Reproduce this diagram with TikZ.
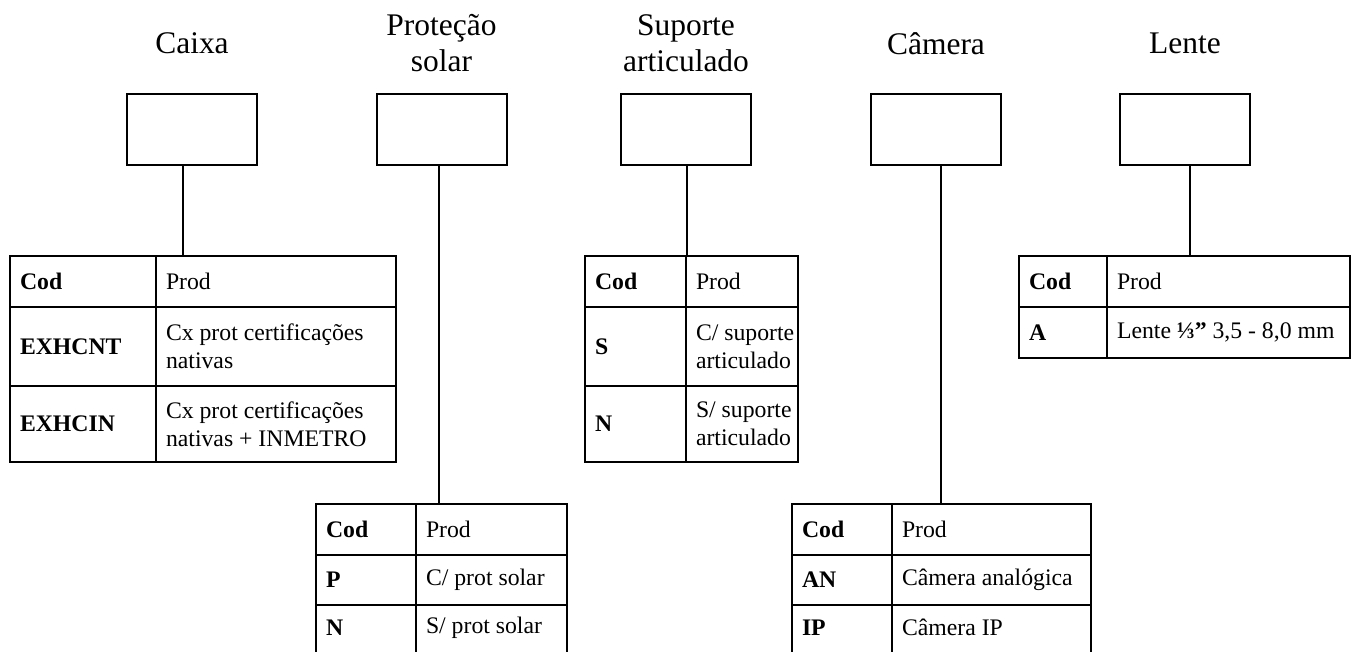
\documentclass[tikz,border=0pt]{standalone}
\usepackage{fontspec}
\setmainfont{Liberation Serif}
\newcommand\tcell[5]{\node[cellbox, minimum width={(#4-#2)*0.75pt}, minimum height={(#5-#3)*0.75pt}] (#1) at ({(#2+#4)/2},{(#3+#5)/2}) {};}
\begin{document}
\begin{tikzpicture}[x=0.75pt,y=-0.75pt,
  stem/.style={line width=1.5pt},
  boxn/.style={draw, line width=1.5pt, rectangle, inner sep=0pt, minimum width=97.5pt, minimum height=53.25pt},
  ttl/.style={font=\fontsize{23.6}{27}\selectfont, align=center, inner sep=0pt},
  cellbox/.style={draw, line width=1.4pt, rectangle, inner sep=0pt},
  ctext/.style={font=\fontsize{17.8}{21}\selectfont, align=left, inner sep=0pt, anchor=west},
  ccode/.style={ctext, font=\fontsize{17.8}{21}\selectfont\bfseries}]
\useasboundingbox (0,0) rectangle (1352,652);
\clip (0,0) rectangle (1352,652);
% titles
\node[ttl] (h1) at (192,43.5) {Caixa};
\node[ttl] (h2) at (441.5,43.5) {Proteção\\solar};
\node[ttl] (h3) at (686,43.5) {Suporte\\articulado};
\node[ttl] (h4) at (936,43.5) {Câmera};
\node[ttl] (h5) at (1185,43.5) {Lente};
% boxes
\node[boxn] (b1) at (192,129.5) {};
\node[boxn] (b2) at (441.5,129.5) {};
\node[boxn] (b3) at (686,129.5) {};
\node[boxn] (b4) at (936,129.5) {};
\node[boxn] (b5) at (1185,129.5) {};
% table 1 (Caixa)
\tcell{t1a}{10}{256}{156}{307}
\tcell{t1b}{156}{256}{396}{307}
\tcell{t1c}{10}{307}{156}{386}
\tcell{t1d}{156}{307}{396}{386}
\tcell{t1e}{10}{386}{156}{462}
\tcell{t1f}{156}{386}{396}{462}
\node[ccode] (x1a) at ([xshift=8pt]t1a.west) {Cod};
\node[ctext] (x1b) at ([xshift=8pt]t1b.west) {Prod};
\node[ccode] (x1c) at ([xshift=8pt]t1c.west) {EXHCNT};
\node[ctext] (x1d) at ([xshift=8pt]t1d.west) {Cx prot certificações\\nativas};
\node[ccode] (x1e) at ([xshift=8pt]t1e.west) {EXHCIN};
\node[ctext] (x1f) at ([xshift=8pt]t1f.west) {Cx prot certificações\\nativas + INMETRO};
% table 2 (Proteção solar)
\tcell{t2a}{316}{504}{416}{555}
\tcell{t2b}{416}{504}{567}{555}
\tcell{t2c}{316}{555}{416}{605}
\tcell{t2d}{416}{555}{567}{605}
\tcell{t2e}{316}{605}{416}{700}
\tcell{t2f}{416}{605}{567}{700}
\node[ccode] (x2a) at ([xshift=8pt]t2a.west) {Cod};
\node[ctext] (x2b) at ([xshift=8pt]t2b.west) {Prod};
\node[ccode] (x2c) at ([xshift=8pt]t2c.west) {P};
\node[ctext] (x2d) at ([xshift=8pt]t2d.west) {C/ prot solar};
\node[ccode] (x2e) at ([xshift=8pt,yshift=-17.6pt]t2e.north west) {N};
\node[ctext] (x2f) at ([xshift=8pt,yshift=-17.6pt]t2f.north west) {S/ prot solar};
% table 3 (Suporte articulado)
\tcell{t3a}{585}{256}{686}{307}
\tcell{t3b}{686}{256}{798}{307}
\tcell{t3c}{585}{307}{686}{386}
\tcell{t3d}{686}{307}{798}{386}
\tcell{t3e}{585}{386}{686}{462}
\tcell{t3f}{686}{386}{798}{462}
\node[ccode] (x3a) at ([xshift=8pt]t3a.west) {Cod};
\node[ctext] (x3b) at ([xshift=8pt]t3b.west) {Prod};
\node[ccode] (x3c) at ([xshift=8pt]t3c.west) {S};
\node[ctext] (x3d) at ([xshift=8pt]t3d.west) {C/ suporte\\articulado};
\node[ccode] (x3e) at ([xshift=8pt]t3e.west) {N};
\node[ctext] (x3f) at ([xshift=8pt]t3f.west) {S/ suporte\\articulado};
% table 4 (Camera)
\tcell{t4a}{792}{504}{892}{555}
\tcell{t4b}{892}{504}{1091}{555}
\tcell{t4c}{792}{555}{892}{605}
\tcell{t4d}{892}{555}{1091}{605}
\tcell{t4e}{792}{605}{892}{700}
\tcell{t4f}{892}{605}{1091}{700}
\node[ccode] (x4a) at ([xshift=8pt]t4a.west) {Cod};
\node[ctext] (x4b) at ([xshift=8pt]t4b.west) {Prod};
\node[ccode] (x4c) at ([xshift=8pt]t4c.west) {AN};
\node[ctext] (x4d) at ([xshift=8pt]t4d.west) {Câmera analógica};
\node[ccode] (x4e) at ([xshift=8pt,yshift=-17.6pt]t4e.north west) {IP};
\node[ctext] (x4f) at ([xshift=8pt,yshift=-17.6pt]t4f.north west) {Câmera IP};
% table 5 (Lente)
\tcell{t5a}{1019}{256}{1107}{307}
\tcell{t5b}{1107}{256}{1350}{307}
\tcell{t5c}{1019}{307}{1107}{358}
\tcell{t5d}{1107}{307}{1350}{358}
\node[ccode] (x5a) at ([xshift=8pt]t5a.west) {Cod};
\node[ctext] (x5b) at ([xshift=8pt]t5b.west) {Prod};
\node[ccode] (x5c) at ([xshift=8pt]t5c.west) {A};
\node[ctext, text height=12.5pt, text depth=3.5pt] (x5d) at ([xshift=8pt]t5d.west) {Lente \textbf{⅓”} 3,5 - 8,0 mm};
% stems
\coordinate (s1) at (183,256);
\coordinate (s2) at (439,504);
\coordinate (s3) at (687,256);
\coordinate (s4) at (941,504);
\coordinate (s5) at (1190,256);
\draw[stem] (b1.south -| s1) -- (s1);
\draw[stem] (b2.south -| s2) -- (s2);
\draw[stem] (b3.south -| s3) -- (s3);
\draw[stem] (b4.south -| s4) -- (s4);
\draw[stem] (b5.south -| s5) -- (s5);
\end{tikzpicture}
\end{document}
